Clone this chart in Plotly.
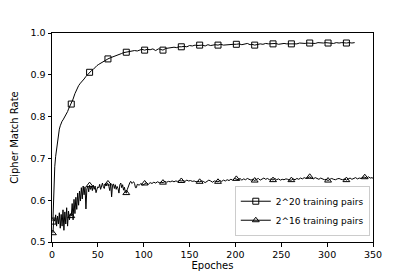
import plotly.graph_objects as go

# ---- data: 2^20 training pairs (square markers) ----
sq_epochs = [1,2,3,4,5,6,7,8,9,10,11,12,13,14,15,16,17,18,19,20,21,23,25,27,29,31,33,35,37,39,
             41,43,45,47,49,51,53,55,57,59,61,64,67,70,73,76,78,81,84,87,90,93,96,98,
             101,104,107,110,113,116,118,121,124,127,130,133,136,138,141,144,147,150,153,156,158,
             161,164,167,170,173,176,178,181,184,187,190,193,196,198,201,204,207,210,213,216,218,
             221,224,227,230,233,236,238,241,244,247,250,253,256,258,261,264,267,270,273,276,278,
             281,284,287,290,293,296,298,301,304,307,310,313,316,318,321,324,327,330]
sq_rate = [0.550,0.640,0.680,0.705,0.725,0.742,0.757,0.770,0.778,0.785,0.789,0.792,0.796,0.800,0.802,
           0.806,0.812,0.818,0.823,0.827,0.830,0.842,0.855,0.866,0.874,0.880,0.884,0.890,0.896,0.901,
           0.906,0.910,0.913,0.918,0.922,0.925,0.928,0.930,0.933,0.936,0.938,0.941,0.944,0.946,0.949,
           0.951,0.953,0.954,0.955,0.957,0.958,0.957,0.959,0.961,
           0.959,0.961,0.960,0.962,0.958,0.962,0.961,0.959,0.963,0.964,0.965,0.966,0.965,0.967,
           0.967,0.968,0.967,0.970,0.969,0.971,0.970,
           0.971,0.971,0.969,0.972,0.970,0.971,0.972,0.971,0.973,0.971,0.972,0.972,0.974,0.973,
           0.973,0.974,0.972,0.973,0.975,0.972,0.973,
           0.971,0.973,0.974,0.973,0.975,0.974,0.974,0.974,0.975,0.973,0.974,0.975,0.974,0.974,
           0.974,0.975,0.974,0.976,0.975,0.975,0.976,
           0.976,0.976,0.975,0.977,0.976,0.976,0.977,0.976,0.976,0.975,0.977,0.976,0.977,0.976,
           0.976,0.977,0.976,0.977]

# ---- data: 2^16 training pairs (triangle markers) ----
tr_epochs = list(range(1, 93)) + list(range(93, 350, 2)) + [350]
tr_rate = [0.521,0.555,0.550,0.565,0.538,0.562,0.543,0.570,0.533,0.566,
           0.538,0.577,0.528,0.572,0.543,0.582,0.538,0.574,0.553,0.567,
           0.562,0.592,0.553,0.602,0.568,0.607,0.578,0.617,0.588,0.622,
           0.598,0.630,0.603,0.634,0.613,0.632,0.579,0.627,0.634,0.620,
           0.636,0.626,0.634,0.623,0.636,0.626,0.634,0.618,0.626,0.632,
           0.630,0.638,0.626,0.637,0.641,0.632,0.628,0.639,0.634,0.641,
           0.640,0.633,0.623,0.641,0.608,0.636,0.639,0.628,0.637,0.626,
           0.633,0.628,0.617,0.637,0.641,0.630,0.637,0.624,0.631,0.619,
           0.617,0.625,0.632,0.640,0.643,0.645,0.640,0.642,0.644,0.640,
           0.630,0.630,
           # odd epochs 93..349
           0.638,0.636,0.640,0.636,0.640,0.642,0.638,0.642,0.640,0.643,
           0.641,0.644,0.642,0.643,0.642,0.645,0.643,0.645,0.644,0.646,
           0.644,0.646,0.645,0.647,0.646,0.647,0.645,0.648,0.646,0.647,
           0.645,0.646,0.644,0.645,0.644,0.646,0.645,0.642,0.645,0.648,
           0.646,0.643,0.646,0.645,0.644,0.647,0.645,0.648,0.646,0.649,
           0.647,0.650,0.648,0.652,0.651,0.649,0.652,0.648,0.651,0.649,
           0.652,0.650,0.648,0.650,0.647,0.650,0.652,0.648,0.651,0.653,
           0.650,0.652,0.649,0.651,0.648,0.652,0.649,0.651,0.648,0.650,
           0.649,0.651,0.650,0.648,0.648,0.651,0.649,0.652,0.650,0.653,
           0.651,0.654,0.652,0.655,0.656,0.653,0.651,0.654,0.652,0.650,
           0.653,0.651,0.649,0.650,0.647,0.650,0.652,0.650,0.649,0.651,
           0.652,0.650,0.649,0.651,0.648,0.651,0.653,0.650,0.652,0.654,
           0.651,0.653,0.652,0.655,0.655,0.653,0.656,0.653,0.654,
           0.652]

series_names = ["2^20 training pairs", "2^16 training pairs"]
x_ticks = [0, 50, 100, 150, 200, 250, 300, 350]
y_ticks = [0.5, 0.6, 0.7, 0.8, 0.9, 1.0]

FONT = "DejaVu Sans"
fig = go.Figure()

def add_series(xs, ys, name, symbol):
    mx = [x for x in xs if (x - 1) % 20 == 0]
    my = [y for x, y in zip(xs, ys) if (x - 1) % 20 == 0]
    fig.add_trace(go.Scatter(x=xs, y=ys, mode="lines", line=dict(color="black", width=1),
                             showlegend=False, hoverinfo="skip"))
    fig.add_trace(go.Scatter(x=mx, y=my, mode="markers", showlegend=False,
                             marker=dict(symbol=symbol, size=6, color="black",
                                         line=dict(color="black", width=1))))
    fig.add_trace(go.Scatter(x=[None], y=[None], mode="lines+markers", name=name,
                             line=dict(color="black", width=1),
                             marker=dict(symbol=symbol, size=6, color="black",
                                         line=dict(color="black", width=1))))

add_series(sq_epochs, sq_rate, series_names[0], "square-open")
add_series(tr_epochs, tr_rate, series_names[1], "triangle-up-open")

axis_common = dict(showline=True, linecolor="black", linewidth=1, mirror=True,
                   ticks="outside", ticklen=3.5, tickwidth=0.8, tickcolor="black",
                   showgrid=False, zeroline=False, automargin=False,
                   tickfont=dict(family=FONT, size=9.5, color="black"))

fig.update_xaxes(range=[0, 350], tickvals=x_ticks,
                 title=dict(text="Epoches", font=dict(family=FONT, size=10, color="black"), standoff=0),
                 **axis_common)
fig.update_yaxes(range=[0.5, 1.0], tickvals=y_ticks, tickformat=".1f",
                 title=dict(text="Cipher Match Rate", font=dict(family=FONT, size=10, color="black"), standoff=9),
                 **axis_common)

fig.update_layout(
    width=415, height=277,
    margin=dict(l=52, r=42, t=33, b=35),
    plot_bgcolor="white", paper_bgcolor="white",
    font=dict(family=FONT, size=9.5, color="black"),
    legend=dict(x=0.99, y=0.03, xanchor="right", yanchor="bottom",
                bgcolor="white", bordercolor="#cccccc", borderwidth=1,
                font=dict(family=FONT, size=9, color="black"),
                itemwidth=30, tracegroupgap=0),
)

fig.write_html("out.html", config={"displayModeBar": False},
               post_script="document.body.style.margin='0';")
